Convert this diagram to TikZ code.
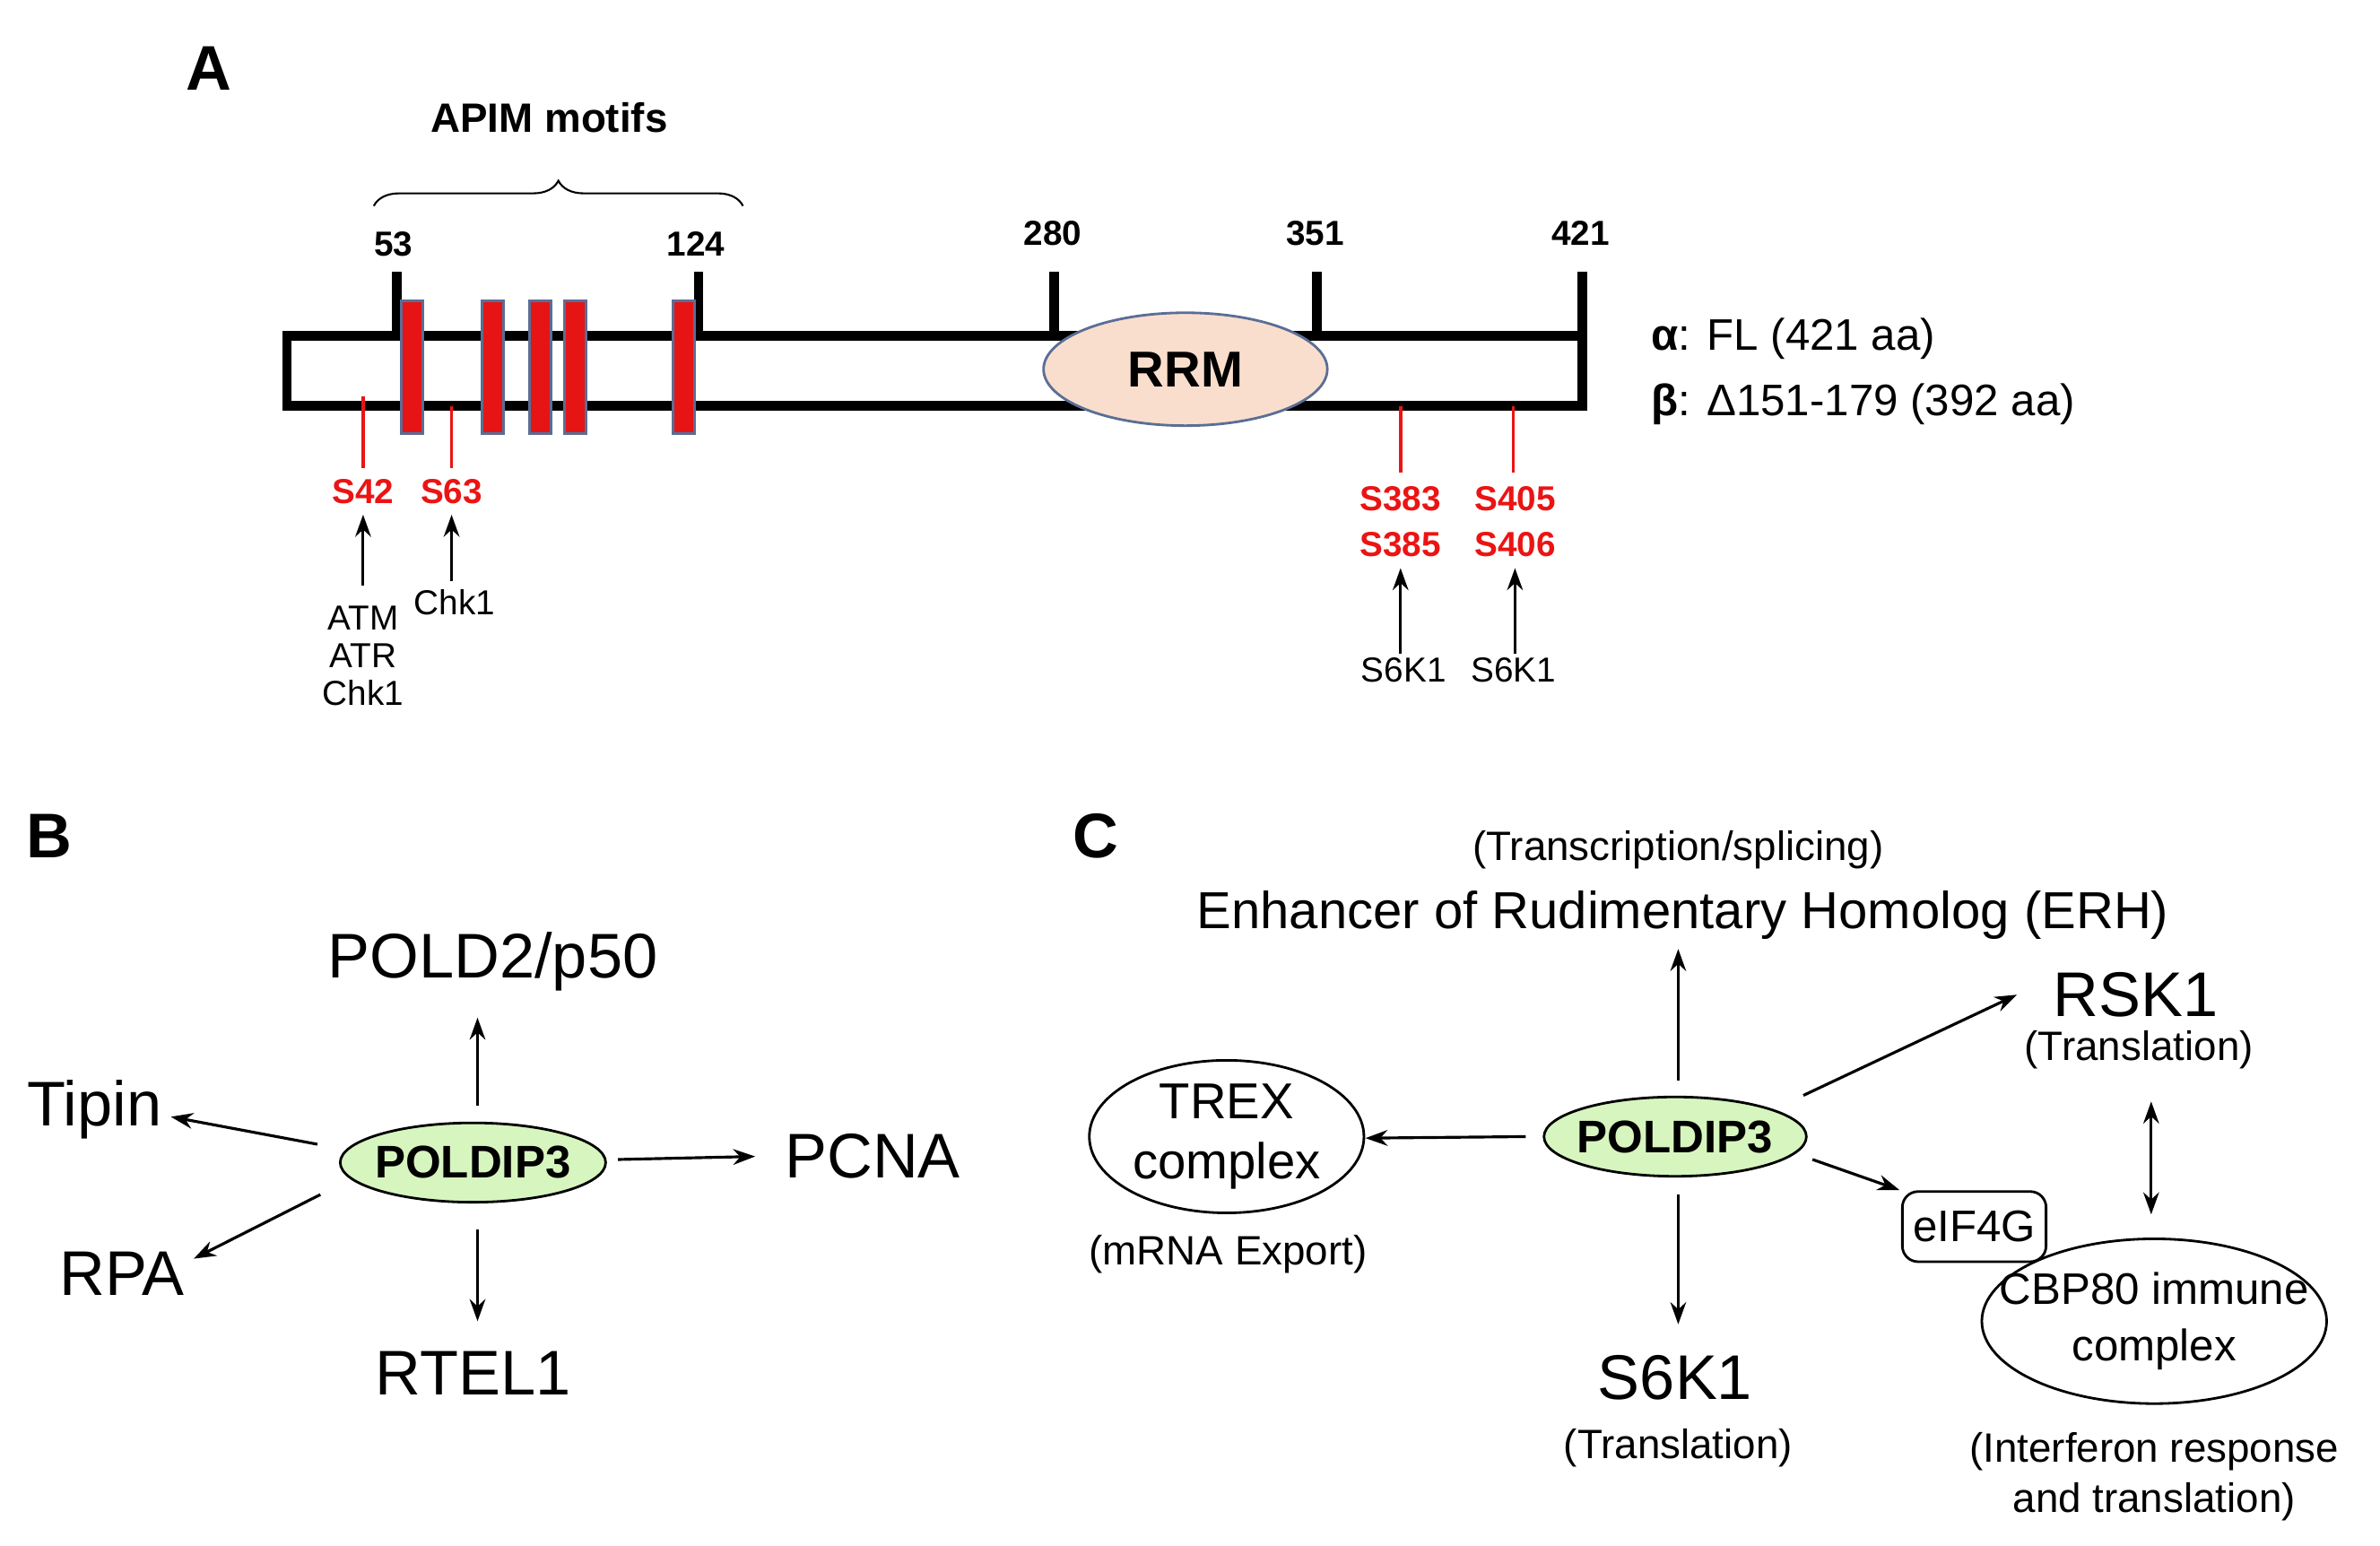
\documentclass[tikz,border=0pt]{standalone}
\usepackage{fontspec}
\setmainfont{Liberation Sans}
\usetikzlibrary{shapes.geometric,arrows.meta,decorations.pathreplacing}
\definecolor{redbox}{RGB}{230,20,20}
\definecolor{boxedge}{RGB}{90,110,150}
\definecolor{peach}{RGB}{250,222,205}
\definecolor{lgreen}{RGB}{215,245,190}
\definecolor{lab}{RGB}{235,20,20}
\begin{document}
\begin{tikzpicture}[x=0.017cm,y=-0.017cm,
  bar/.style={line width=3pt},
  rbox/.style={fill=redbox,draw=boxedge,line width=0.8pt},
  num/.style={font=\fontsize{11}{12}\selectfont\bfseries},
  site/.style={font=\fontsize{11}{13}\selectfont\bfseries,text=lab},
  kin/.style={font=\fontsize{11}{13}\selectfont},
  arr/.style={-{Stealth[length=7pt,width=5pt]},line width=0.9pt},
  big/.style={font=\fontsize{20}{22}\selectfont},
  mid/.style={font=\fontsize{14}{16}\selectfont},
  pol/.style={ellipse,draw,line width=0.8pt,fill=lgreen,inner sep=-4pt,font=\fontsize{14.5}{16}\selectfont\bfseries}]
\useasboundingbox (0,0) rectangle (1560,1013);
% ---------- A
\node[font=\fontsize{20}{22}\selectfont\bfseries] (lA) at (137,45) {A};
\node[font=\fontsize{13}{15}\selectfont\bfseries] (apim) at (360,77) {APIM motifs};
\coordinate (b1) at (245,135); \coordinate (b2) at (487,135);
\draw[decorate,decoration={brace,amplitude=8pt},line width=0.6pt] (b1) -- (b2);
\draw[bar] (188,220) rectangle (1037,266);
\foreach \x in {260,458,691,863,1037}{
  \draw[bar] (\x,178) -- (\x,220);
}
\node[num] (n53) at (258,160) {53};
\node[num] (n124) at (456,160) {124};
\node[num] (n280) at (690,153) {280};
\node[num] (n351) at (862,153) {351};
\node[num] (n421) at (1036,153) {421};
\foreach \x in {270,323,354,377,448}{
  \draw[rbox] (\x-7,197) rectangle (\x+7,284);
}
\node[ellipse,draw=boxedge,line width=0.8pt,fill=peach,minimum width=186*0.017cm,minimum height=74*0.017cm,font=\fontsize{16}{18}\selectfont\bfseries] (rrm) at (777,242) {RRM};
\draw[lab,line width=1pt] (238,260) -- (238,307);
\draw[lab,line width=1pt] (296,266) -- (296,307);
\draw[lab,line width=1pt] (918,266) -- (918,310);
\draw[lab,line width=1pt] (992,266) -- (992,310);
\node[site] (s42) at (238,322) {S42};
\node[site] (s63) at (296,322) {S63};
\node[site] (s383) at (918,327) {S383};
\node[site] (s385) at (918,357) {S385};
\node[site] (s405) at (993,327) {S405};
\node[site] (s406) at (993,357) {S406};
\node[kin,align=center,inner sep=1pt] (atm) at (238,430) {ATM\\[-1pt]ATR\\[-1pt]Chk1};
\node[kin,inner sep=1pt] (chk) at (298,395) {Chk1};
\node[kin,inner sep=1pt] (k1) at (920,439) {S6K1};
\node[kin,inner sep=1pt] (k2) at (992,439) {S6K1};
\draw[arr] (238,384) -- (s42.south);
\draw[arr] (296,381) -- (s63.south);
\draw[arr] (k1.north -| 918,0) -- (s385.south);
\draw[arr] (k2.north -| 993,0) -- (s406.south);
\node[mid,anchor=west] (alpha) at (1075,222) {\textbf{α}: FL (421 aa)};
\node[mid,anchor=west] (beta) at (1075,265) {\textbf{β}: Δ151-179 (392 aa)};
% ---------- B
\node[font=\fontsize{20}{22}\selectfont\bfseries] (lB) at (32,548) {B};
\node[pol,minimum width=174*0.017cm,minimum height=52*0.017cm] (pB) at (310,762) {POLDIP3};
\node[big] (pold2) at (323,630) {POLD2/p50};
\node[big] (tipin) at (62,727) {Tipin};
\node[big] (pcna) at (572,758) {PCNA};
\node[big] (rpa) at (80,835) {RPA};
\node[big] (rtel) at (310,900) {RTEL1};
\draw[arr] (313,725) -- (313,667);
\draw[arr] (208,750) -- (112,732);
\draw[arr] (405,760) -- (495,758);
\draw[arr] (210,783) -- (127,825);
\draw[arr] (313,806) -- (313,866);
% ---------- C
\node[font=\fontsize{20}{22}\selectfont\bfseries] (lC) at (718,548) {C};
\node[pol,minimum width=172*0.017cm,minimum height=52*0.017cm] (pC) at (1098,745) {POLDIP3};
\node[font=\fontsize{13}{15}\selectfont] (tsp) at (1100,557) {(Transcription/splicing)};
\node[font=\fontsize{16.5}{18}\selectfont] (erh) at (1103,600) {Enhancer of Rudimentary Homolog (ERH)};
\node[big] (rsk) at (1400,652) {RSK1};
\node[font=\fontsize{13}{15}\selectfont] (rskt) at (1402,688) {(Translation)};
\node[ellipse,draw,line width=0.8pt,minimum width=180*0.017cm,minimum height=100*0.017cm,align=center,font=\fontsize{16}{19}\selectfont,inner sep=-8pt] (trex) at (804,745) {TREX\\complex};
\node[font=\fontsize{13}{15}\selectfont] (mrna) at (805,822) {(mRNA Export)};
\node[draw,rounded corners=5pt,line width=0.8pt,minimum width=90*0.017cm,minimum height=46*0.017cm,font=\fontsize{14}{16}\selectfont] (eif) at (1294,804) {eIF4G};
\node[ellipse,draw,line width=0.8pt,fill=white,minimum width=226*0.017cm,minimum height=108*0.017cm,align=center,font=\fontsize{14}{18}\selectfont,inner sep=-12pt] (cbp) at (1412,866) {CBP80 immune\\complex};
\node[align=center,font=\fontsize{13}{16}\selectfont] (ifn) at (1412,968) {(Interferon response\\and translation)};
\node[big] (s6k) at (1098,903) {S6K1};
\node[font=\fontsize{13}{15}\selectfont] (s6kt) at (1100,949) {(Translation)};
\draw[arr] (1100,708) -- (1100,622);
\draw[arr] (1182,718) -- (1322,652);
\draw[arr] (1000,745) -- (895,746);
\draw[arr] (1188,760) -- (1245,780);
\draw[arr] (1100,783) -- (1100,868);
\draw[{Stealth[length=7pt,width=5pt]}-{Stealth[length=7pt,width=5pt]},line width=0.9pt] (1410,722) -- (1410,796);
\end{tikzpicture}
\end{document}
